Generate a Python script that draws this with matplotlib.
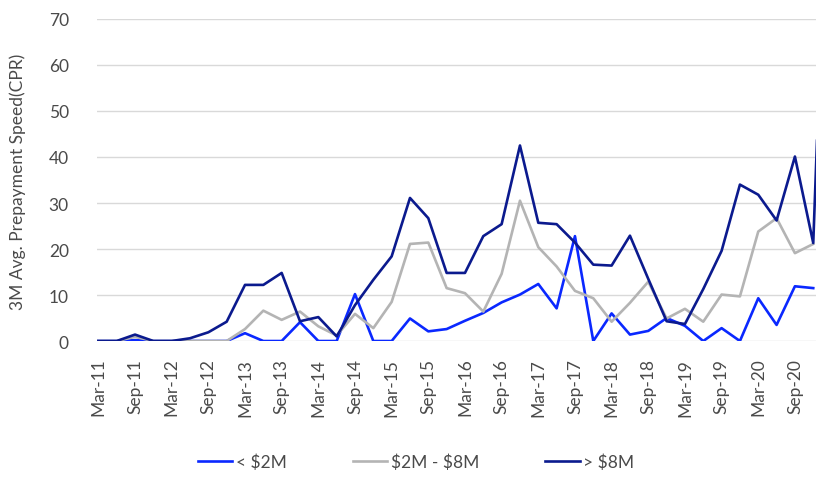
import matplotlib
matplotlib.use("Agg")
import matplotlib.pyplot as plt
from matplotlib import font_manager

# quarterly labels, Mar-11 .. Mar-21
years = list(range(11, 22))
months = ["Mar", "Jun", "Sep", "Dec"]
quarters = ["%s-%d" % (m, y) for y in years for m in months][:41]

# 3M avg prepayment speed (CPR) by loan size bucket
small = [0, 0, 0.2, 0, 0, 0, 0, 0, 1.7, 0, 0, 4.1, 0, 0, 10.2, 0, 0, 4.9, 2.1, 2.6,
         4.4, 6.1, 8.4, 10.1, 12.4, 7.1, 22.8, 0, 6.0, 1.4, 2.2, 5.0, 3.3, 0, 2.8, 0,
         9.3, 3.5, 11.9, 11.5]
mid = [0, 0, 0.9, 0, 0, 0, 0, 0, 2.6, 6.6, 4.6, 6.4, 3.2, 1.2, 5.9, 2.8, 8.5, 21.1, 21.4, 11.5,
       10.4, 6.4, 14.6, 30.5, 20.4, 16.2, 10.9, 9.3, 4.2, 8.3, 12.9, 4.9, 7.0, 4.2, 10.1, 9.7,
       23.8, 26.7, 19.1, 21.1]
large = [0, 0, 1.4, 0, 0, 0.6, 1.9, 4.2, 12.2, 12.2, 14.8, 4.3, 5.2, 1.0, 7.8, 13.3, 18.4, 31.1, 26.7, 14.8,
         14.8, 22.8, 25.4, 42.5, 25.7, 25.4, 21.4, 16.6, 16.4, 22.9, 13.5, 4.3, 3.7, 11.3, 19.6, 34.0,
         31.8, 26.2, 40.1, 21.3, 130.0]

series_names = [r"< \$2M", r"\$2M - \$8M", r"> \$8M"]
colors = ["#0A28FF", "#B4B4B4", "#0B1A8E"]

names = {f.name for f in font_manager.fontManager.ttflist}
family = "Lato" if "Lato" in names else "DejaVu Sans"
plt.rcParams["font.family"] = family
text_col = "#4a4a4a"
fs = 12.5

fig = plt.figure(figsize=(8.16, 4.85), dpi=100)
ax = fig.add_axes([0.1183, 0.2948, 0.8817, 0.664])

for vals, name, col in zip([small, mid, large], series_names, colors):
    ax.plot(range(len(vals)), vals, color=col, lw=1.9, label=name)

ax.set_xlim(-0.1, 39.15)
ax.set_ylim(0, 70)
ax.set_yticks(range(0, 71, 10))
ax.set_xticks(range(0, 40, 2))
ax.set_xticklabels(quarters[0:40:2], rotation=90)
ax.tick_params(axis="both", length=0, labelsize=fs, colors=text_col)
ax.tick_params(axis="y", pad=20)
ax.tick_params(axis="x", pad=12)

ax.grid(axis="y", color="#D9D9D9", lw=1)
ax.set_axisbelow(True)
for s in ax.spines.values():
    s.set_visible(False)

fig.text(0.022, 0.625, "3M Avg. Prepayment Speed(CPR)", rotation=90, ha="center", va="center",
         fontsize=fs, color=text_col)

fig.legend(loc="center", bbox_to_anchor=(0.51, 0.045), ncol=3, frameon=False,
           fontsize=fs, handlelength=2.0, handletextpad=0.2, columnspacing=3.8,
           labelcolor=text_col)

fig.savefig("out.png", dpi=100)
